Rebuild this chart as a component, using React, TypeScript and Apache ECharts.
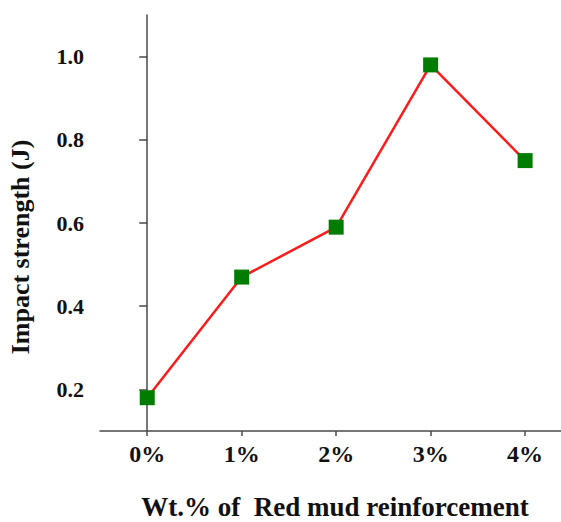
import React, { useEffect, useRef } from "react";
import * as echarts from "echarts";

const categories = ["0%", "1%", "2%", "3%", "4%"];
const impactStrength = [0.18, 0.47, 0.59, 0.98, 0.75];
const yTickValues = [0.2, 0.4, 0.6, 0.8, 1.0];
const xTitle = "Wt.% of  Red mud reinforcement";
const yTitle = "Impact strength (J)";

const FONT = "Times New Roman";

export default function App() {
  const ref = useRef<HTMLDivElement>(null);
  useEffect(() => {
    if (!ref.current) return;
    const chart = echarts.init(ref.current, null, { renderer: "svg" });
    const axisColor = "#4a4a4a";
    const xTickValues = categories.map((_, i) => i);
    chart.setOption({
      animation: false,
      backgroundColor: "#ffffff",
      textStyle: { fontFamily: FONT },
      grid: { left: 100, right: 0, top: 15, bottom: 91, containLabel: false },
      xAxis: {
        type: "value",
        min: -0.5,
        max: 4.38,
        axisLine: { show: true, onZero: false, lineStyle: { color: axisColor, width: 1.5 } },
        axisTick: { show: true, length: 5, customValues: xTickValues, lineStyle: { color: axisColor, width: 1.5 } },
        axisLabel: {
          color: "#111",
          fontFamily: FONT,
          fontWeight: "bold",
          fontSize: 24,
          margin: 11,
          customValues: xTickValues,
          formatter: (v: number) => categories[Math.round(v)] ?? "",
        },
        splitLine: { show: false },
      },
      yAxis: {
        type: "value",
        min: 0.1,
        max: 1.1,
        axisLine: { show: true, lineStyle: { color: axisColor, width: 1.5 } },
        axisTick: { show: true, length: 8, customValues: yTickValues, lineStyle: { color: axisColor, width: 1.5 } },
        axisLabel: {
          color: "#111",
          fontFamily: FONT,
          fontWeight: "bold",
          fontSize: 22,
          margin: 16,
          customValues: yTickValues,
          formatter: (v: number) => v.toFixed(1),
        },
        splitLine: { show: false },
      },
      graphic: [
        {
          type: "text",
          x: 335,
          y: 507,
          style: {
            text: xTitle,
            fontFamily: FONT,
            fontWeight: "bold",
            fontSize: 27,
            fill: "#111",
            align: "center",
            verticalAlign: "middle",
          },
        },
        {
          type: "text",
          x: 20,
          y: 247,
          rotation: Math.PI / 2,
          style: {
            text: yTitle,
            fontFamily: FONT,
            fontWeight: "bold",
            fontSize: 26,
            fill: "#111",
            align: "center",
            verticalAlign: "middle",
          },
        },
      ],
      series: [
        {
          type: "line",
          data: impactStrength.map((v, i) => [i, v]),
          symbol: "rect",
          symbolSize: 15,
          itemStyle: { color: "#007d00" },
          lineStyle: { color: "#ff1a1a", width: 2.5 },
        },
      ],
    });
    return () => chart.dispose();
  }, []);
  return (
    <div
      ref={ref}
      style={{ position: "fixed", left: 0, top: 0, width: 561, height: 522, background: "#fff" }}
    />
  );
}
